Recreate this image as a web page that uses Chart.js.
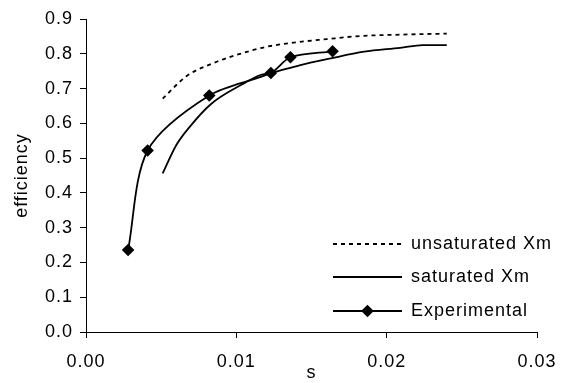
<!DOCTYPE html>
<html><head><meta charset="utf-8">
<script src="https://cdn.jsdelivr.net/npm/chart.js@4/dist/chart.umd.min.js"></script>
<style>html,body{margin:0;padding:0;background:#fff}</style>
</head><body>
<canvas id="c" width="572" height="383" style="width:572px;height:383px;display:block"></canvas>
<script>
// ---- data ----
const xTickValues = [0.00, 0.01, 0.02, 0.03];
const yTickValues = [0.0, 0.1, 0.2, 0.3, 0.4, 0.5, 0.6, 0.7, 0.8, 0.9];

const unsatS   = [0.0051, 0.0067, 0.0087, 0.0109, 0.0120, 0.0138, 0.0160, 0.0182, 0.0209, 0.0240];
const unsatEff = [0.671, 0.736, 0.777, 0.808, 0.820, 0.832, 0.842, 0.851, 0.855, 0.858];

const satS   = [0.0051, 0.0060, 0.0069, 0.0083, 0.0103, 0.0116, 0.0123, 0.0142, 0.0162, 0.0185, 0.0209, 0.0224, 0.0240];
const satEff = [0.456, 0.537, 0.590, 0.655, 0.710, 0.739, 0.745, 0.767, 0.786, 0.806, 0.817, 0.825, 0.825];

const expS   = [0.0028, 0.0041, 0.0082, 0.0123, 0.0136, 0.0164];
const expEff = [0.236, 0.522, 0.680, 0.745, 0.790, 0.807];

const seriesLabels = ['unsaturated Xm', 'saturated Xm', 'Experimental'];
const axisTitles = {x: 's', y: 'efficiency'};

// ---- build chart ----
const toPts = (xs, ys) => xs.map((x, i) => ({x: x, y: ys[i]}));
const FONT = '"Liberation Sans", Arial, sans-serif';
const FSIZE = 18;
Chart.defaults.font.family = FONT;
Chart.defaults.font.size = FSIZE;
Chart.defaults.color = '#000';

const wideText = {
  id: 'wideText',
  beforeUpdate(c) { c.ctx.letterSpacing = '1px'; },
  beforeLayout(c) { c.ctx.letterSpacing = '1px'; },
  beforeDraw(c) { c.ctx.letterSpacing = '1px'; }
};

const insideLegend = {
  id: 'insideLegend',
  afterDraw(chart) {
    const ctx = chart.ctx;
    const x0 = 333, x1 = 402, tx = 411;
    const ys = [244, 277, 311];
    chart.data.datasets.forEach((ds, i) => {
      const y = ys[i];
      ctx.save();
      ctx.strokeStyle = '#000';
      ctx.lineWidth = ds.borderWidth;
      ctx.setLineDash(ds.borderDash || []);
      ctx.beginPath(); ctx.moveTo(x0, y); ctx.lineTo(x1, y); ctx.stroke();
      ctx.setLineDash([]);
      if (ds.pointRadius > 0) {
        ctx.fillStyle = '#000';
        Chart.helpers.drawPoint(ctx, {pointStyle: ds.pointStyle, radius: ds.pointRadius, rotation: 0, borderWidth: 1}, (x0 + x1) / 2, y);
      }
      ctx.fillStyle = '#000';
      ctx.font = FSIZE + 'px ' + FONT;
      ctx.textBaseline = 'middle';
      ctx.textAlign = 'left';
      ctx.fillText(ds.label, tx, y);
      ctx.restore();
    });
  }
};

new Chart(document.getElementById('c'), {
  type: 'line',
  data: {
    datasets: [
      {label: seriesLabels[0], data: toPts(unsatS, unsatEff), borderColor: '#000', borderWidth: 1.8,
       borderDash: [4, 4], pointRadius: 0, cubicInterpolationMode: 'monotone', fill: false},
      {label: seriesLabels[1], data: toPts(satS, satEff), borderColor: '#000', borderWidth: 1.8,
       pointRadius: 0, cubicInterpolationMode: 'monotone', fill: false},
      {label: seriesLabels[2], data: toPts(expS, expEff), borderColor: '#000', borderWidth: 1.8,
       pointStyle: 'rectRot', pointRadius: 5, pointBackgroundColor: '#000', pointBorderColor: '#000',
       tension: 0.3, fill: false}
    ]
  },
  options: {
    responsive: false,
    animation: false,
    devicePixelRatio: 1,
    layout: {padding: {left: 0, right: 35, top: 19, bottom: 0}},
    plugins: {legend: {display: false}, tooltip: {enabled: false}},
    scales: {
      x: {
        type: 'linear', min: 0, max: 0.03,
        afterBuildTicks: s => { s.ticks = xTickValues.map(v => ({value: v})); },
        afterFit: s => { s.height = 51; },
        ticks: {callback: v => Number(v).toFixed(2), padding: 13, maxRotation: 0},
        grid: {display: true, drawOnChartArea: false, drawTicks: true, tickLength: 6, color: '#000', lineWidth: 1},
        border: {display: true, color: '#000', width: 1},
        title: {display: true, text: axisTitles.x, padding: {top: 0, bottom: -1}}
      },
      y: {
        type: 'linear', min: 0, max: 0.9,
        afterBuildTicks: s => { s.ticks = yTickValues.map(v => ({value: v})); },
        afterFit: s => { s.width = 86; },
        ticks: {callback: v => Number(v).toFixed(1), padding: 7},
        grid: {display: true, drawOnChartArea: false, drawTicks: true, tickLength: 6, color: '#000', lineWidth: 1},
        border: {display: true, color: '#000', width: 1},
        title: {display: true, text: axisTitles.y, padding: {top: 11, bottom: 0}}
      }
    }
  },
  plugins: [wideText, insideLegend]
});
</script>
</body></html>
